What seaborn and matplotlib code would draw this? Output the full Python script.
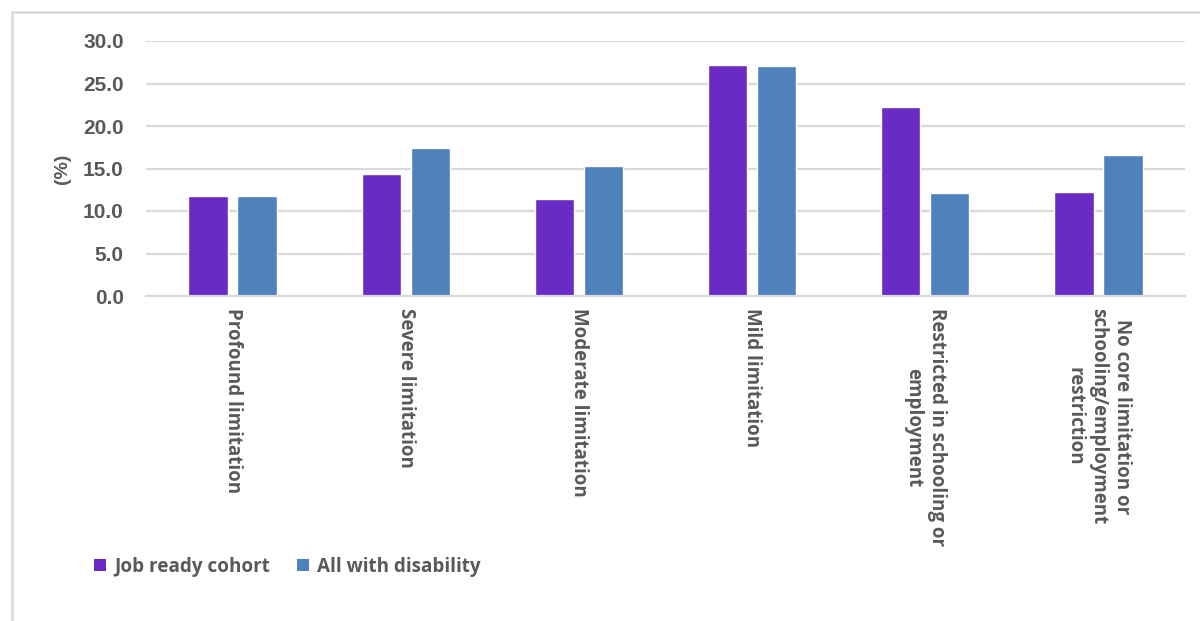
import pandas as pd
import matplotlib.pyplot as plt
import seaborn as sns
from matplotlib.patches import Patch
from matplotlib.lines import Line2D

# -------------------------------------------------
# Data
# -------------------------------------------------
categories = [
    "Profound limitation",
    "Severe limitation",
    "Moderate limitation",
    "Mild limitation",
    "Restricted in schooling or\nemployment",
    "No core limitation or\nschooling/employment\nrestriction",
]
job_ready = [11.8, 14.3, 11.4, 27.2, 22.2, 12.2]
all_disability = [11.8, 17.4, 15.3, 27.1, 12.1, 16.6]
series_names = ["Job ready cohort", "All with disability"]
yticks = [0, 5, 10, 15, 20, 25, 30]

df = pd.DataFrame({
    "category": categories * 2,
    "value": job_ready + all_disability,
    "series": [series_names[0]] * len(categories) + [series_names[1]] * len(categories),
})

colors = {"Job ready cohort": "#6A2BC4", "All with disability": "#4F81BD"}
grey = "#595959"

sns.set_theme(style="white")
plt.rcParams["font.family"] = ["Liberation Sans", "DejaVu Sans"]

fig = plt.figure(figsize=(12, 6.21), dpi=100)
ax = fig.add_axes([146 / 1200, 1 - 296 / 621, (1185 - 146) / 1200, (296 - 41) / 621])

sns.barplot(
    data=df, x="category", y="value", hue="series",
    palette=colors, width=0.566, gap=0.2,
    ax=ax, legend=False, saturation=1,
)

ax.set_ylim(0, 30)
ax.set_yticks(yticks)
ax.set_yticklabels([f"{t:.1f}" for t in yticks], fontsize=15, fontweight="bold", color=grey)
ax.yaxis.grid(True, color="#d9d9d9", linewidth=1.6)
ax.set_axisbelow(True)
for s in ["top", "right", "left"]:
    ax.spines[s].set_visible(False)
ax.spines["bottom"].set_color("#d9d9d9")
ax.spines["bottom"].set_linewidth(1.6)
ax.tick_params(axis="y", length=0, pad=16)
ax.tick_params(axis="x", length=0, pad=9)

ax.set_xticks(range(len(categories)))
ax.set_xticklabels(categories, rotation=270, ha="center", va="top",
                   multialignment="center", fontsize=13.5, fontweight="bold",
                   color=grey, family=["Open Sans", "DejaVu Sans"], linespacing=1.25)
ax.set_xlabel("")
ax.set_ylabel("(%)", fontsize=14, fontweight="bold", color=grey, labelpad=9)

# legend
handles = [Patch(facecolor=colors[n], edgecolor="none") for n in series_names]
fig.legend(handles, series_names, loc="center left", bbox_to_anchor=(0.064, 1 - 567 / 621),
           ncol=2, frameon=False, handlelength=0.62, handleheight=0.62,
           handletextpad=0.45, columnspacing=1.45,
           prop={"family": ["Open Sans", "DejaVu Sans"], "weight": "bold", "size": 13.6},
           labelcolor=grey)

# outer chart frame (top and left edges visible)
fig.add_artist(Line2D([12 / 1200, 12 / 1200], [0, 1 - 12 / 621], transform=fig.transFigure,
                      color="#d9d9d9", linewidth=1.8))
fig.add_artist(Line2D([12 / 1200, 1], [1 - 12 / 621, 1 - 12 / 621], transform=fig.transFigure,
                      color="#d9d9d9", linewidth=1.8))

fig.savefig("out.png", dpi=100, facecolor="white")
